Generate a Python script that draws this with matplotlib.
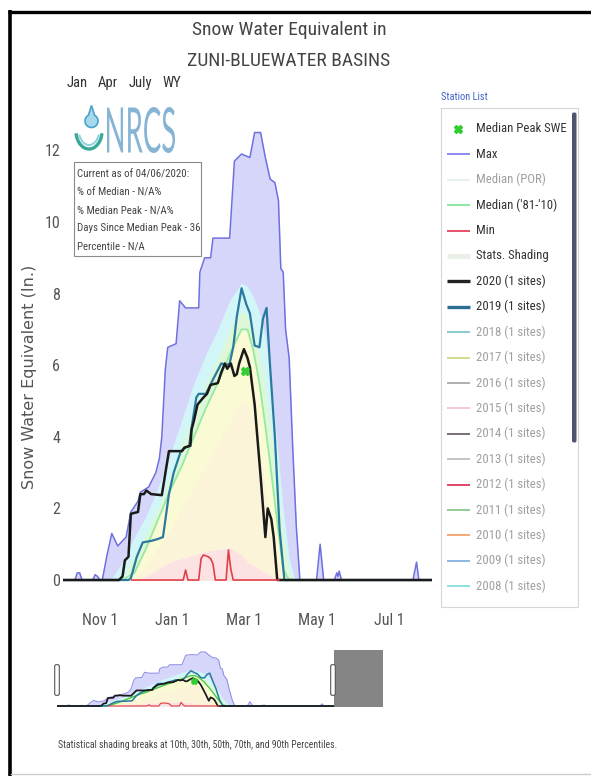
import numpy as np
import matplotlib
matplotlib.use('Agg')
import matplotlib.pyplot as plt
from matplotlib import font_manager as fm
from matplotlib.patches import Rectangle, FancyBboxPatch, Arc, PathPatch, Polygon
from matplotlib.textpath import TextPath
from matplotlib.font_manager import FontProperties
from matplotlib.transforms import Affine2D

W, H = 591, 776

# ---------------- data (day index from Oct 1, WY2020) ----------------
tick_days = [31, 92, 152, 213, 274]
tick_labels = ['Nov 1', 'Jan 1', 'Mar 1', 'May 1', 'Jul 1']
y_ticks = [0, 2, 4, 6, 8, 10, 12]

max_days = [0, 10, 12, 14, 16, 25, 27, 29, 31, 33, 37, 41, 46, 53, 57, 63, 65, 72, 78,
            81, 83, 86, 88, 95, 98, 103, 114, 115, 119, 124, 126, 140, 144, 150, 157,
            161, 166, 170, 174, 178, 181, 183, 185, 187, 190, 193, 196, 199, 213, 216,
            219, 228, 230, 231, 232, 234, 294, 297, 299, 310]
max_swe = [0, 0, 0.2, 0.2, 0, 0, 0.15, 0.1, 0, 0, 0.7, 1.3, 0.95, 1.2, 1.9, 2.2, 2.45, 2.6, 3.0,
           3.4, 4.0, 5.9, 6.5, 6.6, 7.8, 7.6, 7.6, 8.6, 9.0, 9.0, 9.55, 9.55, 11.7, 11.9, 11.8,
           12.5, 12.5, 11.8, 11.2, 11.1, 10.6, 8.7, 8.6, 7.0, 6.2, 3.7, 1.5, 0, 0, 1.0,
           0, 0, 0.2, 0.1, 0.25, 0, 0, 0.5, 0, 0]

stat_days = [40, 50, 60, 70, 80, 90, 100, 110, 120, 130, 140, 150, 155, 160, 165, 170, 175, 180, 185, 190, 195]
p10 = [0, 0, 0, 0.1, 0.3, 0.5, 0.6, 0.7, 0.8, 0.85, 0.9, 0.7, 0.5, 0.4, 0.3, 0.2, 0.1, 0, 0, 0, 0]
p30 = [0, 0, 0, 0.4, 0.9, 1.4, 2.0, 2.6, 3.2, 3.8, 4.4, 5.0, 4.9, 4.4, 3.6, 2.6, 1.5, 0.6, 0, 0, 0]
p50 = [0, 0, 0.2, 0.9, 1.7, 2.5, 3.2, 4.0, 4.8, 5.5, 6.3, 7.0, 7.0, 6.4, 5.5, 4.3, 3.0, 1.6, 0.3, 0, 0]
p70 = [0, 0, 0.7, 1.3, 2.0, 2.9, 3.8, 4.7, 5.5, 6.2, 7.0, 7.5, 7.4, 7.0, 6.3, 5.4, 4.2, 2.8, 1.3, 0.2, 0]
p90 = [0, 0.5, 1.2, 1.8, 2.6, 3.5, 4.5, 5.5, 6.3, 7.0, 7.8, 8.3, 8.2, 7.9, 7.5, 6.8, 5.5, 3.8, 2.0, 0.6, 0]

wy2020_days = [0, 47, 50, 52, 55, 57, 63, 65, 68, 70, 74, 83, 89, 100, 102, 107, 108, 110, 113,
               118, 121, 124, 130, 133, 136, 138, 141, 144, 146, 148, 152, 155, 157, 161, 166,
               170, 172, 175, 177, 180, 310]
wy2020_swe = [0, 0, 0.1, 0.55, 0.65, 1.85, 1.9, 2.4, 2.4, 2.5, 2.4, 2.37, 3.6, 3.6, 3.7, 3.75, 4.2, 4.45, 4.9,
              5.1, 5.2, 5.45, 5.5, 5.8, 6.05, 5.9, 6.05, 5.7, 5.75, 6.05, 6.45, 6.2, 5.95, 4.9, 2.9,
              1.2, 2.0, 1.7, 1.2, 0, 0]

wy2019_days = [0, 55, 57, 62, 67, 75, 80, 84, 89, 93, 99, 103, 106, 108, 112, 114, 120, 126, 133,
               137, 140, 143, 146, 150, 154, 157, 161, 165, 168, 171, 174, 178, 182, 186, 310]
wy2019_swe = [0, 0, 0.05, 0.65, 1.05, 1.1, 1.15, 1.2, 2.4, 3.0, 3.6, 3.7, 3.75, 4.25, 5.1, 5.2, 5.2, 5.6, 6.05,
              6.0, 6.05, 6.5, 7.35, 8.15, 7.7, 7.45, 6.55, 6.5, 7.3, 7.6, 5.95, 4.0, 1.4, 0, 0]

min_days = [57, 101, 103, 105, 114, 116, 118, 122, 124, 126, 128, 137, 139, 141, 143, 182]
min_swe = [0, 0, 0.28, 0, 0, 0.6, 0.7, 0.65, 0.6, 0.45, 0, 0, 0.84, 0.3, 0, 0]

median_peak_day = 153
median_peak_swe = 5.85

info_lines = ['Current as of 04/06/2020:', '% of Median - N/A%', '% Median Peak - N/A%',
              'Days Since Median Peak - 36', 'Percentile - N/A']
menu_items = ['Jan', 'Apr', 'July', 'WY']

legend_labels = ['Median Peak SWE', 'Max', 'Median (POR)', "Median ('81-'10)", 'Min', 'Stats. Shading',
                 '2020 (1 sites)', '2019 (1 sites)', '2018 (1 sites)', '2017 (1 sites)', '2016 (1 sites)',
                 '2015 (1 sites)', '2014 (1 sites)', '2013 (1 sites)', '2012 (1 sites)', '2011 (1 sites)',
                 '2010 (1 sites)', '2009 (1 sites)', '2008 (1 sites)']
legend_colors = ['#33cc33', '#8c8cf0', '#e4f2f2', '#8de8a0', '#e8506a', '#eaf0e6', '#222222', '#2b6f94',
                 '#86cccc', '#d4dc8c', '#b0b0b0', '#f0c8d2', '#7a6e78', '#c4c4c4', '#e2466a', '#90cc90',
                 '#f4a878', '#8cb8e4', '#8ce0e0']
legend_active = [True, True, False, True, True, True, True, True] + [False] * 11

# ---------------- fonts ----------------
avail = {f.name for f in fm.fontManager.ttflist}
NARROW = next((n for n in ['Liberation Sans Narrow', 'DejaVu Sans Condensed', 'Roboto Condensed']
               if n in avail), 'Liberation Sans')

# ---------------- colours ----------------
C_MAX_FILL = '#d6d6fa'
C_P90 = '#d2f5f8'
C_P70 = '#ddf8d8'
C_P50 = '#fafad4'
C_P30 = '#fcf4d8'
C_P10 = '#fce2e2'
C_MAX = '#6f6fe0'
C_MED = '#95eaa2'
C_2019 = '#2a7aa0'
C_2020 = '#1a1a1a'
C_MIN = '#e0404a'

fig = plt.figure(figsize=(W / 100, H / 100), dpi=100)
fig.patch.set_facecolor('white')


def frac_rect(x0, y0, x1, y1):
    return [x0 / W, 1 - y1 / H, (x1 - x0) / W, (y1 - y0) / H]


def draw_chart(a, lw_scale=1.0, nav=False):
    a.fill_between(max_days, 0, max_swe, color=C_MAX_FILL, lw=0, zorder=1)
    a.fill_between(stat_days, 0, p90, color=C_P90, lw=0, zorder=1)
    a.fill_between(stat_days, 0, p70, color=C_P70, lw=0, zorder=1)
    a.fill_between(stat_days, 0, p50, color=C_P50, lw=0, zorder=1)
    a.fill_between(stat_days, 0, p30, color=C_P30, lw=0, zorder=1)
    a.fill_between(stat_days, 0, p10, color=C_P10, lw=0, zorder=1)
    a.plot(max_days, max_swe, color=C_MAX if not nav else '#8f8fe8', lw=1.1 * lw_scale, zorder=2)
    a.plot(stat_days, p50, color=C_MED if not nav else '#3cc83c', lw=1.3 * lw_scale, zorder=3)
    a.plot(wy2019_days, wy2019_swe, color=C_2019, lw=1.6 * lw_scale, zorder=4)
    a.plot(wy2020_days, wy2020_swe, color=C_2020, lw=1.8 * lw_scale, zorder=5)
    a.plot(min_days, min_swe, color=C_MIN, lw=1.2 * lw_scale, zorder=6, solid_capstyle='butt')
    a.plot([median_peak_day], [median_peak_swe], marker='X', color='#33cc33', ms=6 * lw_scale,
           mec='#33cc33', ls='none', zorder=7)


# ---------------- main chart ----------------
ax = fig.add_axes(frac_rect(63, 114.6, 432, 583.6))
ax.set_xlim(0, 310)
ax.set_ylim(-0.1, 13)
draw_chart(ax)
for s in ax.spines.values():
    s.set_visible(False)
ax.set_facecolor('none')
ax.set_xticks(tick_days)
ax.set_xticklabels(tick_labels)
ax.set_yticks(y_ticks)
ax.set_yticklabels([str(v) for v in y_ticks])
ax.tick_params(axis='both', length=0, labelsize=11.5, labelcolor='#555555')
ax.tick_params(axis='x', pad=21)
ax.tick_params(axis='y', pad=2)
for lab in ax.get_xticklabels() + ax.get_yticklabels():
    lab.set_fontfamily(NARROW)

# ---------------- navigator ----------------
nav = fig.add_axes(frac_rect(57, 649.8, 383, 707.3))
nav.set_xlim(0, 365)
nav.set_ylim(-0.3, 13)
draw_chart(nav, lw_scale=0.7, nav=True)
nav.axvspan(310, 365, color='#7c7c7c', alpha=0.93, lw=0, zorder=10)
nav.axis('off')

# ---------------- overlay in pixel coordinates ----------------
ov = fig.add_axes([0, 0, 1, 1], zorder=20)
ov.set_xlim(0, W)
ov.set_ylim(H, 0)
ov.axis('off')
ov.patch.set_alpha(0)

# page frame
ov.plot([9.5, 9.5], [10, H], color='black', lw=2.6, solid_capstyle='butt')
ov.plot([8, W], [11.5, 11.5], color='black', lw=2.4, solid_capstyle='butt')
ov.plot([11, W], [773.5, 773.5], color='#cccccc', lw=1.0)

# title
ov.text(289, 30, 'Snow Water Equivalent in', ha='center', va='center', fontsize=14,
        color='#444444', family=NARROW)
ov.text(289, 61, 'ZUNI-BLUEWATER BASINS', ha='center', va='center', fontsize=14,
        color='#444444', family=NARROW)

# menu
for x, s in zip([77, 108, 140, 172], menu_items):
    ov.text(x, 83, s, ha='center', va='center', fontsize=10.5, color='#333333', family=NARROW)

# logo: drop + cupped waves
t = np.linspace(np.radians(-62), np.radians(242), 60)
cx, cy, r = 91.5, 121.0, 6.5
drop = np.column_stack([cx + r * np.cos(t), cy + r * np.sin(t)])
drop = np.vstack([[cx, 105.5], drop, [cx, 105.5]])
ov.add_patch(Polygon(drop, closed=True, fc='#a8d8ee', ec='#4aa3c8', lw=1.2))
ov.add_patch(Arc((89, 131), 26, 36, theta1=10, theta2=170, color='#3aa898', lw=2.4))
ov.add_patch(Arc((89, 131), 20, 28, theta1=20, theta2=160, color='#8fd0e0', lw=1.4))
fp = FontProperties(family='Lato', weight='normal')
tp = TextPath((0, 0), 'NRCS', size=50, prop=fp)
bb = tp.get_extents()
tr = Affine2D().translate(-bb.x0, -bb.y0).scale(68 / bb.width, -46 / bb.height).translate(107, 153)
ov.add_patch(PathPatch(tp, transform=tr + ov.transData, fc='#86b4d4', ec='none'))

# info box
ov.add_patch(Rectangle((74, 162), 127, 94, fc='white', ec='#8a8a8a', lw=0.8))
for i, s in enumerate(info_lines):
    ov.text(77, 174 + 18 * i, s, ha='left', va='center', fontsize=7.8, color='#444444', family=NARROW)

# y label
ov.text(30, 377, 'Snow Water Equivalent (In.)', rotation=90, ha='center', va='center',
        fontsize=11.5, color='#555555', family='DejaVu Sans')

# legend panel
ov.text(441, 97, 'Station List', ha='left', va='center', fontsize=7.5, color='#3f62c8', family=NARROW)
ov.add_patch(Rectangle((441, 108), 137, 499, fc='white', ec='#d6d6d6', lw=0.8))
ov.add_patch(FancyBboxPatch((572.5, 113), 3.5, 329, boxstyle='round,pad=0.5,rounding_size=1.8',
                            fc='#4f5470', ec='none'))
for i, (lab, col, act) in enumerate(zip(legend_labels, legend_colors, legend_active)):
    yy = 129 + 25.4 * i
    if i == 0:
        ov.plot([458], [yy], marker='X', color=col, ms=6, ls='none')
    elif lab == 'Stats. Shading':
        ov.plot([447, 470], [yy, yy], color=col, lw=3.5, solid_capstyle='butt')
    else:
        lw = 2.4 if lab.startswith(('2020', '2019')) else 1.4
        ov.plot([447, 470], [yy, yy], color=col, lw=lw, solid_capstyle='butt')
    ov.text(476, yy, lab, ha='left', va='center', fontsize=9.2,
            color='#333333' if act else '#a0a0a0', family=NARROW)

# navigator handles
for hx in [57, 333]:
    ov.add_patch(FancyBboxPatch((hx - 2, 665), 4, 30, boxstyle='round,pad=0.3,rounding_size=1.5',
                                fc='white', ec='#555555', lw=0.8))

# footnote
ov.text(58, 745, 'Statistical shading breaks at 10th, 30th, 50th, 70th, and 90th Percentiles.',
        ha='left', va='center', fontsize=7.0, color='#444444', family=NARROW)

fig.savefig('out.png', dpi=100)
